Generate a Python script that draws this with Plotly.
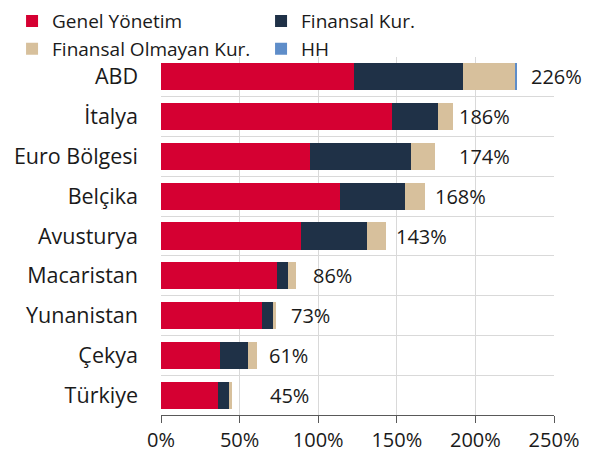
import plotly.graph_objects as go

categories = ["ABD", "İtalya", "Euro Bölgesi", "Belçika", "Avusturya",
              "Macaristan", "Yunanistan", "Çekya", "Türkiye"]
genel_yonetim = [123, 147, 95, 114, 89, 74, 64, 37.5, 36]
finansal_kur = [69, 29, 64, 41, 42, 7, 7, 18, 7]
finansal_olmayan = [33.5, 10, 15, 13, 12, 5, 2, 5.5, 2]
hh = [1, 0, 0, 0, 0, 0, 0, 0, 0]
total_labels = ["226%", "186%", "174%", "168%", "143%", "86%", "73%", "61%", "45%"]
label_x = [234, 188.5, 188.5, 173, 148, 95.7, 81.4, 67.4, 68.3]
x_ticks = [0, 50, 100, 150, 200, 250]
x_tick_labels = ["0%", "50%", "100%", "150%", "200%", "250%"]

FONT = "Open Sans"
TXT = "#1a1a1a"
series = [
    ("Genel Yönetim", genel_yonetim, "#D50032"),
    ("Finansal Kur.", finansal_kur, "#1F3147"),
    ("Finansal Olmayan Kur.", finansal_olmayan, "#D7C09C"),
    ("HH", hh, "#5E8DC9"),
]

fig = go.Figure()
for name, vals, col in series:
    fig.add_trace(go.Bar(
        y=categories, x=vals, name=name, orientation="h",
        marker=dict(color=col, line=dict(width=0)),
    ))

for cat, lab, lx in zip(categories, total_labels, label_x):
    fig.add_annotation(x=lx, y=cat, text=lab, showarrow=False,
                       xanchor="left", yanchor="middle",
                       font=dict(family=FONT, size=20, color=TXT))

fig.update_layout(
    width=598, height=461,
    margin=dict(l=161, r=44, t=57, b=46, autoexpand=False),
    barmode="stack", bargap=0.32,
    paper_bgcolor="white", plot_bgcolor="white",
    font=dict(family=FONT, size=20, color=TXT),
    legend=dict(orientation="h", traceorder="normal",
                x=-0.379, xanchor="left",
                y=1.153, yanchor="top",
                entrywidth=204, font=dict(family=FONT, size=19, color=TXT),
                itemwidth=30, tracegroupgap=0, bgcolor="rgba(0,0,0,0)"),
    showlegend=True,
)
fig.update_xaxes(range=[0, 250], tickvals=x_ticks, ticktext=x_tick_labels,
                 showgrid=True, gridcolor="#d9d9d9", gridwidth=1,
                 showline=True, linecolor="#595959", linewidth=1,
                 ticks="outside", ticklen=7, tickcolor="#595959",
                 tickfont=dict(family=FONT, size=20, color=TXT),
                 zeroline=False, fixedrange=True)
fig.update_yaxes(categoryorder="array", categoryarray=categories,
                 autorange="reversed", tickson="boundaries",
                 showgrid=True, gridcolor="#d9d9d9", gridwidth=1,
                 ticks="", ticklabelstandoff=22, showline=False,
                 tickfont=dict(family=FONT, size=21.5, color=TXT),
                 fixedrange=True)

fig.write_html("out.html")
